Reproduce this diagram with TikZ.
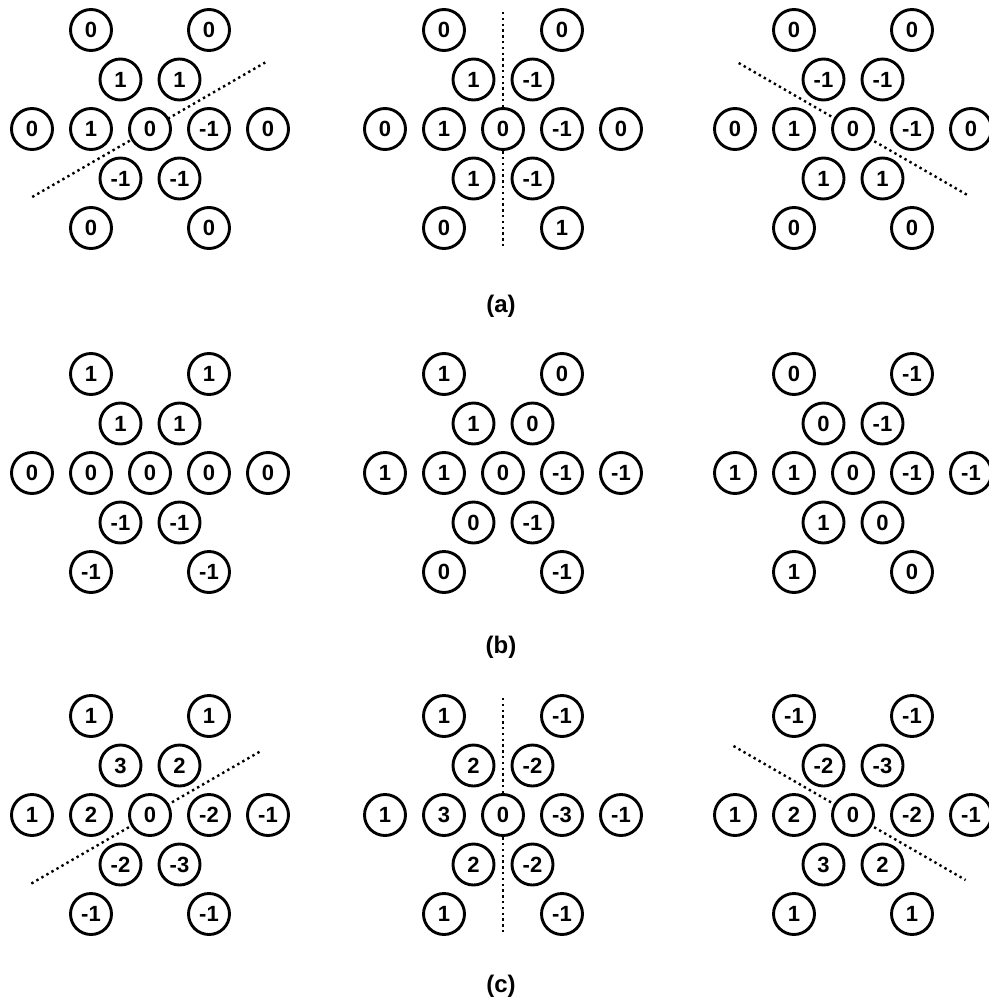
\documentclass[tikz,border=0pt]{standalone}
\usepackage{fontspec}
\setmainfont{Liberation Sans}
\newcommand\hexpanel[4]{%
  \begin{scope}[shift={(#2,#3)}]
    \foreach \v [count=\i] in {#4} {
      \pgfmathsetmacro\px{{-59,59,-29.5,29.5,-118,-59,0,59,118,-29.5,29.5,-59,59}[\i-1]}
      \pgfmathsetmacro\py{{-99,-99,-49.5,-49.5,0,0,0,0,0,49.5,49.5,99,99}[\i-1]}
      \node[cell] (#1-\i) at (\px,\py) {\v};
    }
  \end{scope}}
\begin{document}
\begin{tikzpicture}[x=1pt,y=-1pt,
  cell/.style={circle, draw, line width=2.9pt, fill=white, minimum size=41pt,
    inner sep=0pt, font=\fontsize{22}{22}\selectfont\bfseries},
  axis/.style={line width=2.4pt, dash pattern=on 2.4pt off 3.4pt},
  lbl/.style={font=\fontsize{24}{24}\selectfont\bfseries}]
\useasboundingbox (0,0) rectangle (988,1001);
% dotted axes (behind the circles); y axis points down, so angles are mirrored
\begin{scope}[shift={(150,129)}]
  \coordinate (la1s) at (150:136); \coordinate (la1e) at (-30:133);
  \draw[axis] (la1s) -- (la1e);
\end{scope}
\begin{scope}[shift={(503,129)}]
  \coordinate (la2s) at (0,-117); \coordinate (la2e) at (0,119);
  \draw[axis] (la2s) -- (la2e);
\end{scope}
\begin{scope}[shift={(853,129)}]
  \coordinate (la3s) at (210:132); \coordinate (la3e) at (30:133);
  \draw[axis] (la3s) -- (la3e);
\end{scope}
\begin{scope}[shift={(150,815)}]
  \coordinate (lc1s) at (150:137); \coordinate (lc1e) at (-30:128);
  \draw[axis] (lc1s) -- (lc1e);
\end{scope}
\begin{scope}[shift={(503,815)}]
  \coordinate (lc2s) at (0,-117); \coordinate (lc2e) at (0,120);
  \draw[axis] (lc2s) -- (lc2e);
\end{scope}
\begin{scope}[shift={(853,815)}]
  \coordinate (lc3s) at (210:138); \coordinate (lc3e) at (30:130);
  \draw[axis] (lc3s) -- (lc3e);
\end{scope}
% panels
\hexpanel{a1}{150}{129}{0,0,1,1,0,1,0,-1,0,-1,-1,0,0}
\hexpanel{a2}{503}{129}{0,0,1,-1,0,1,0,-1,0,1,-1,0,1}
\hexpanel{a3}{853}{129}{0,0,-1,-1,0,1,0,-1,0,1,1,0,0}
\hexpanel{b1}{150}{473}{1,1,1,1,0,0,0,0,0,-1,-1,-1,-1}
\hexpanel{b2}{503}{473}{1,0,1,0,1,1,0,-1,-1,0,-1,0,-1}
\hexpanel{b3}{853}{473}{0,-1,0,-1,1,1,0,-1,-1,1,0,1,0}
\hexpanel{c1}{150}{815}{1,1,3,2,1,2,0,-2,-1,-2,-3,-1,-1}
\hexpanel{c2}{503}{815}{1,-1,2,-2,1,3,0,-3,-1,2,-2,1,-1}
\hexpanel{c3}{853}{815}{-1,-1,-2,-3,1,2,0,-2,-1,3,2,1,1}
% captions
\node[lbl] (capa) at (501,306) {(a)};
\node[lbl] (capb) at (501,647) {(b)};
\node[lbl] (capc) at (501,986) {(c)};
\end{tikzpicture}
\end{document}
